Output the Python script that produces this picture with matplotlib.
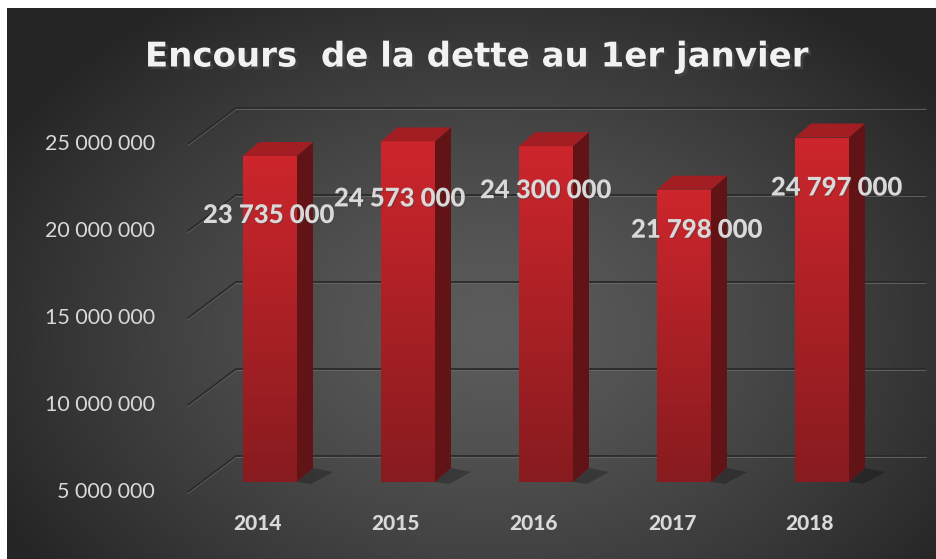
import numpy as np
import matplotlib
matplotlib.use("Agg")
import matplotlib.pyplot as plt
from matplotlib.patches import Polygon
import matplotlib.patheffects as pe

# ---------------- data ----------------
years = ["2014", "2015", "2016", "2017", "2018"]
values = [23735000, 24573000, 24300000, 21798000, 24797000]
y_ticks = [5000000, 10000000, 15000000, 20000000, 25000000]
title = "Encours  de la dette au 1er janvier"

# ---------------- layout (pixels) ----------------
W, H = 936, 559
X0_PX, PX_PER_CAT = 270, 138          # bar centre of first category, spacing
Y_BASE_PX, PX_PER_UNIT = 482, 17.4e-6  # floor (5M) y pixel, pixels per unit
BASE = y_ticks[0]
BAR_W_PX = 54
DEPTH = (16, 14)      # bar depth offset (px right, px up)
FRONT = (-13, -10)    # front axis plane offset
BACK = (35, 26)       # back wall offset
LABEL_NUDGE = [(-1, -59), (-8, -57), (0, -44), (13, -40), (15, -50)]

FONT = "Lato"
TXT = "#d9d9d9"

def ux(px):
    return px / PX_PER_CAT

def uy(px):
    return px / PX_PER_UNIT

def fmt(v):
    return f"{v:,}".replace(",", " ")

fig = plt.figure(figsize=(W / 100, H / 100), dpi=100)

# background: radial dark gradient with white margin top/left
bg = fig.add_axes([0, 0, 1, 1])
bg.set_axis_off()
yy, xx = np.mgrid[0:H, 0:W]
r = np.sqrt(((xx - 490) / 560) ** 2 + ((yy - 330) / 400) ** 2)
r = np.clip(r, 0, 1)
c0 = np.array([0x5c, 0x5c, 0x5c]) / 255
c1 = np.array([0x25, 0x25, 0x25]) / 255
img = c0 + (c1 - c0) * (r[..., None] ** 1.3)
img[:8, :, :] = 1.0
img[:, :7, :] = 1.0
bg.imshow(img, extent=(0, W, H, 0), aspect="auto", interpolation="bilinear")
bg.set_xlim(0, W)
bg.set_ylim(H, 0)

# main data axes
ax = fig.add_axes([0, 0, 1, 1])
ax.patch.set_alpha(0)
ax.set_axis_off()
xlim = (ux(-X0_PX), ux(W - X0_PX))
ylim = (BASE - uy(H - Y_BASE_PX), BASE + uy(Y_BASE_PX))

n = len(years)
left_x = -0.5
right_x = n - 0.5

# gridlines: back wall + left wall diagonals
for t in y_ticks:
    bx0, by = left_x + ux(BACK[0]), t + uy(BACK[1])
    bx1 = right_x + ux(BACK[0])
    fx, fy = left_x + ux(FRONT[0]), t + uy(FRONT[1])
    ax.plot([fx, bx0, bx1], [fy - uy(1), by - uy(1), by - uy(1)], color="#6b6b6b",
            lw=1.1, zorder=1, solid_capstyle="round")
    ax.plot([fx, bx0, bx1], [fy, by, by], color="#2a2a2a", lw=1.3, zorder=1.1,
            solid_capstyle="round")
    ax.text(left_x + ux(FRONT[0] - 33), t + uy(FRONT[1]), fmt(t), ha="right",
            va="center", color=TXT, fontsize=15.5, family=FONT, zorder=5)

# bars
bw = ux(BAR_W_PX)
ddx, ddy = ux(DEPTH[0]), uy(DEPTH[1])
top_c = np.array([205, 38, 44]) / 255
bot_c = np.array([135, 27, 31]) / 255
grad = np.linspace(0, 1, 256)[:, None, None]
front_img = top_c + (bot_c - top_c) * grad
front_img = np.repeat(front_img, 2, axis=1)
side_top = np.array([112, 22, 25]) / 255
side_bot = np.array([82, 16, 19]) / 255

for i, v in enumerate(values):
    x0, x1 = i - bw / 2, i + bw / 2
    # floor shadow
    sh = Polygon([(x1, BASE), (x1 + ddx, BASE + ddy), (x1 + ddx + ux(20), BASE + ddy - uy(4)),
                  (x1 + ux(14), BASE - uy(2))], closed=True, facecolor="black",
                 edgecolor="none", alpha=0.25, zorder=2)
    ax.add_patch(sh)
    bar = ax.bar(i, v - BASE, bottom=BASE, width=bw, color="#b52228", zorder=3,
                 linewidth=0)[0]
    im = ax.imshow(front_img, extent=(x0, x1, BASE, v), aspect="auto", zorder=3.1,
                   interpolation="bilinear", origin="upper")
    im.set_clip_path(bar)
    # side face
    side = Polygon([(x1, BASE), (x1 + ddx, BASE + ddy), (x1 + ddx, v + ddy), (x1, v)],
                   closed=True, facecolor=(side_top + side_bot) / 2, edgecolor="none",
                   zorder=3.2)
    ax.add_patch(side)
    # top face
    top = Polygon([(x0, v), (x1, v), (x1 + ddx, v + ddy), (x0 + ddx, v + ddy)],
                  closed=True, facecolor="#a31e23", edgecolor="none", zorder=3.3)
    ax.add_patch(top)
    # year label
    ax.text(i + ux(-12), BASE + uy(-41), years[i], ha="center", va="center",
            color=TXT, fontsize=15, fontweight="black", family=FONT, zorder=5)
    # value label
    nx, ny = LABEL_NUDGE[i]
    ax.text(i + ux(nx), v + uy(ny), fmt(v), ha="center", va="center", color=TXT,
            fontsize=18.5, fontweight="black", family=FONT, zorder=6,
            path_effects=[pe.withSimplePatchShadow(offset=(1, -1), alpha=0.35)])

ax.set_xlim(*xlim)
ax.set_ylim(*ylim)

fig.text(477 / W, 1 - 57 / H, title, ha="center", va="center", color="#f2f2f2",
         fontsize=24.5, fontweight="bold", family="DejaVu Sans",
         path_effects=[pe.withSimplePatchShadow(offset=(2, -2), alpha=0.6)])

fig.savefig("out.png", dpi=100)
